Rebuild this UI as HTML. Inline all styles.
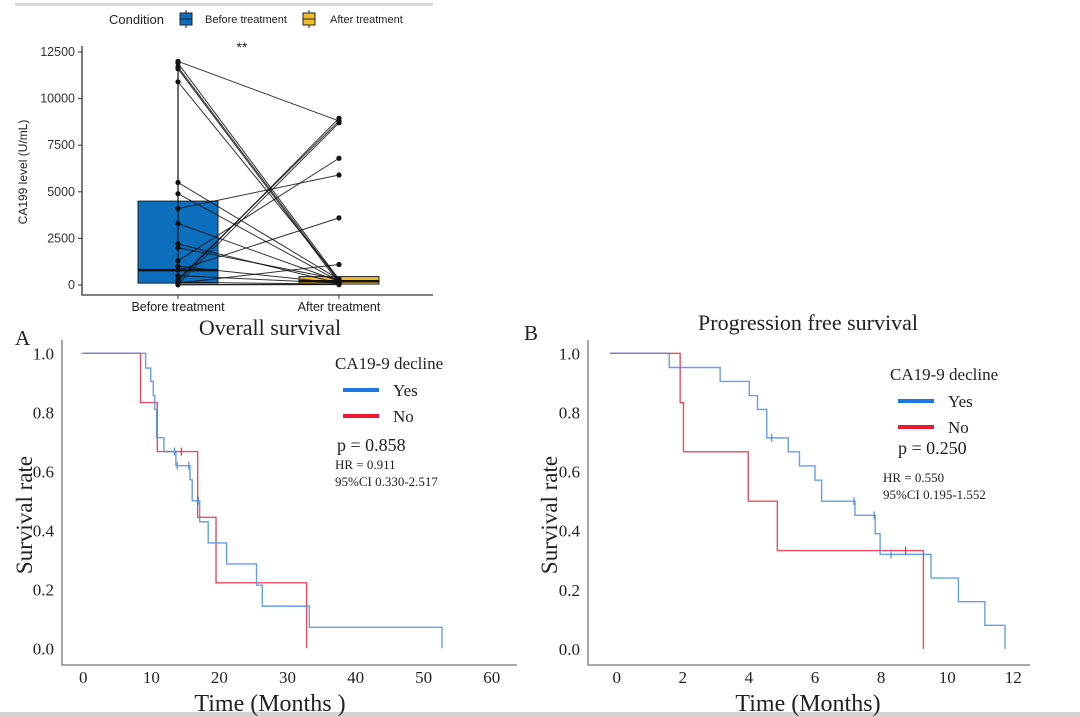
<!DOCTYPE html>
<html><head><meta charset="utf-8"><style>
body{margin:0;background:#fff;width:1080px;height:717px;overflow:hidden}
svg{display:block}
.s{font-family:"Liberation Sans",sans-serif}
.r{font-family:"Liberation Serif",serif}
</style></head><body>
<svg id="fig" width="1080" height="717" viewBox="0 0 1080 717">
<rect x="0" y="0" width="1080" height="717" fill="#fff"/>
<rect x="15" y="3" width="418" height="3" fill="#d8d8d8"/>
<rect x="0" y="712" width="1080" height="5" fill="#d4d4d4"/>
<g id="box"></g>
<g id="os"></g>
<g id="pfs"></g>
</svg>
<script>
// ---- Boxplot data ----
const boxCategories = ["Before treatment","After treatment"];
const boxYTicks = [0,2500,5000,7500,10000,12500];
const beforeVals = [12000,11900,11700,11600,10900,5500,4900,4100,3300,2200,2000,1300,1000,800,300,200,100,50,20,10,500,150];
const afterVals  = [8800,300,200,100,300,300,200,5900,200,100,300,6800,100,3600,8800,8950,1100,8700,50,20,100,50];
const beforeBox = [100,800,4500]; // q1, median, q3
const afterBox = [50,200,450];
// ---- OS data ----
const osXTicks=[0,10,20,30,40,50,60];
const survTicks=[0,0.2,0.4,0.6,0.8,1.0];
const osYesT=[-0.3,9.16,9.9,10.28,10.5,10.77,11.85,13.6,15.67,16.0,17.1,18.35,21.05,25.45,26.3,33.2,52.7];
const osYesS=[1,0.95,0.905,0.857,0.81,0.714,0.667,0.619,0.571,0.5,0.429,0.357,0.286,0.214,0.143,0.071,0];
const osYesCensT=[13.4,13.8,15.5,16.9];
const osYesCensS=[0.667,0.619,0.619,0.5];
const osNoT=[0.2,8.4,10.87,16.8,19.5,32.8];
const osNoS=[1,0.833,0.667,0.444,0.222,0];
const osNoCensT=[14.4];
const osNoCensS=[0.667];
// ---- PFS data ----
const pfsXTicks=[0,2,4,6,8,10,12];
const pfsYesT=[-0.2,1.59,3.13,4.01,4.26,4.54,5.19,5.53,6.0,6.2,7.21,7.82,7.97,9.51,10.34,11.14,11.75];
const pfsYesS=[1,0.952,0.905,0.857,0.81,0.714,0.667,0.619,0.571,0.5,0.452,0.39,0.32,0.24,0.16,0.08,0];
const pfsYesCensT=[4.69,7.18,7.79,8.3];
const pfsYesCensS=[0.714,0.5,0.452,0.32];
const pfsNoT=[-0.2,1.92,2.02,3.98,4.86,9.28];
const pfsNoS=[1,0.833,0.667,0.5,0.333,0];
const pfsNoCensT=[8.74];
const pfsNoCensS=[0.333];

const NS="http://www.w3.org/2000/svg";
function mk(p,tag,a,txt){const e=document.createElementNS(NS,tag);for(const k in a)e.setAttribute(k,a[k]);if(txt!==undefined)e.textContent=txt;p.appendChild(e);return e;}

// ---------- Boxplot ----------
(function(){
const g=document.getElementById('box');
const y=v=>285-v*(233/12500);
const cx=[178,339];
const ax=mk(g,'path',{d:'M82,46V295H433',fill:'none',stroke:'#333','stroke-width':1.3});


boxYTicks.forEach(t=>{
 const tk=mk(g,'line',{x1:78,x2:82,y1:y(t),y2:y(t),stroke:'#333'});
 
 
 const l=mk(g,'text',{x:75,y:y(t)+4,'text-anchor':'end','font-size':12.5,fill:'#333',class:'s'},String(t));
 
 
});
boxCategories.forEach((c,i)=>{
 mk(g,'line',{x1:cx[i],x2:cx[i],y1:295,y2:299,stroke:'#333'});
 const l=mk(g,'text',{x:cx[i],y:311,'text-anchor':'middle','font-size':12.5,fill:'#222',class:'s'},c);
 
 
});
const yl=mk(g,'text',{x:0,y:0,transform:'translate(27,172) rotate(-90)','text-anchor':'middle','font-size':12,fill:'#222',class:'s'},'CA199 level (U/mL)');


[[beforeBox,'#0b6fbd',0],[afterBox,'#f0bd2a',1]].forEach(([b,col,i])=>{
 const r=mk(g,'rect',{x:cx[i]-40,y:y(b[2]),width:80,height:y(b[0])-y(b[2]),fill:col,stroke:'#222','stroke-width':1});
 
 
 const m=mk(g,'line',{x1:cx[i]-40,x2:cx[i]+40,y1:y(b[1]),y2:y(b[1]),stroke:'#111','stroke-width':2.5});
 
 
});
mk(g,'line',{x1:cx[0],x2:cx[0],y1:y(0),y2:y(Math.max(...beforeVals)),stroke:'#111','stroke-width':1.2});
beforeVals.forEach((v,i)=>{
 const ln=mk(g,'line',{x1:cx[0],y1:y(v),x2:cx[1],y2:y(afterVals[i]),stroke:'#111','stroke-width':1,'stroke-opacity':0.85});
 
 
});
beforeVals.forEach((v,i)=>{
 const p=mk(g,'circle',{cx:cx[0],cy:y(v),r:2.6,fill:'#111'});
 
 
 const q=mk(g,'circle',{cx:cx[1],cy:y(afterVals[i]),r:2.6,fill:'#111'});
 
 
});
const st=mk(g,'text',{x:242,y:52,'text-anchor':'middle','font-size':14,fill:'#222',class:'s'},'**');


const lg=mk(g,'g',{});


mk(lg,'text',{x:109,y:24,'font-size':13,fill:'#222',class:'s'},'Condition');
[[180,'#0b6fbd','Before treatment',205],[303,'#f0bd2a','After treatment',330]].forEach(([x,c,t,tx])=>{
 mk(lg,'line',{x1:x+6,x2:x+6,y1:10,y2:28,stroke:'#222'});
 mk(lg,'rect',{x:x,y:13,width:12,height:12,fill:c,stroke:'#222'});
 mk(lg,'line',{x1:x,x2:x+12,y1:19,y2:19,stroke:'#222'});
 const e=mk(lg,'text',{x:tx,y:23,'font-size':11,fill:'#222',class:'s'},t);
 
 
});
})();

// ---------- KM plot helper ----------
function km(gid,cfg){
const g=document.getElementById(gid);
const x=v=>cfg.x0+(v-cfg.xmin)*(cfg.x1-cfg.x0)/(cfg.xmax-cfg.xmin);
const y=v=>cfg.y0-v*(cfg.y0-cfg.y1);
const ax=mk(g,'path',{d:`M${cfg.ax},${cfg.atop}V${cfg.ay}H${cfg.aright}`,fill:'none',stroke:'#777','stroke-width':1.3});


survTicks.forEach(t=>{
 const l=mk(g,'text',{x:cfg.ax-8,y:y(t)+6,'text-anchor':'end','font-size':17,fill:'#222',class:'r'},t.toFixed(1));
 
 
});
cfg.xt.forEach(t=>{
 const l=mk(g,'text',{x:x(t),y:cfg.ay+18,'text-anchor':'middle','font-size':17,fill:'#222',class:'r'},String(t));
 
 
});
function curve(T,S,col,name){
 let d=`M${x(T[0])},${y(S[0])}`;
 for(let i=1;i<T.length;i++){d+=`H${x(T[i])}V${y(S[i])}`;}
 const p=mk(g,'path',{d,fill:'none',stroke:col,'stroke-width':1.4,'stroke-opacity':0.85});
 
 
}
function cens(T,S,col){
 T.forEach((t,i)=>{
  const c=mk(g,'line',{x1:x(t),x2:x(t),y1:y(S[i])-4,y2:y(S[i])+4,stroke:col,'stroke-width':1.2});
  
  
 });
}
curve(cfg.noT,cfg.noS,'#ec2a43','no-curve');
curve(cfg.yesT,cfg.yesS,'#4a8fe6','yes-curve');
cens(cfg.noCT,cfg.noCS,'#ec2a43');
cens(cfg.yesCT,cfg.yesCS,'#4a8fe6');
const t=mk(g,'text',{x:cfg.tx,y:cfg.ty,'text-anchor':'middle','font-size':22,fill:'#222',class:'r'},cfg.title);


const pl=mk(g,'text',{x:cfg.px,y:cfg.ty+10,'font-size':21,fill:'#222',class:'r'},cfg.panel);


const yl=mk(g,'text',{x:0,y:0,transform:`translate(${cfg.ylx},${cfg.yly}) rotate(-90)`,'text-anchor':'middle','font-size':23,fill:'#222',class:'r'},'Survival rate');


const xl=mk(g,'text',{x:cfg.tx,y:711,'text-anchor':'middle','font-size':24,fill:'#222',class:'r'},cfg.xlabel);


const lg=mk(g,'g',{});


mk(lg,'text',{x:cfg.lx,y:cfg.ly,'font-size':17,fill:'#222',class:'r'},'CA19-9 decline');
[['#1a78e6','Yes',0],['#f01530','No',26]].forEach(([c,n,o])=>{
 mk(lg,'rect',{x:cfg.lkx,y:cfg.ly+19+o,width:36,height:4,fill:c});
 const e=mk(lg,'text',{x:cfg.lkx+50,y:cfg.ly+27+o,'font-size':17,fill:'#222',class:'r'},n);
 
 
});
const p=mk(g,'text',{x:cfg.ppx,y:cfg.ppy,'font-size':18,fill:'#222',class:'r'},cfg.p);


const h=mk(g,'text',{x:cfg.hx,y:cfg.hy,'font-size':13,fill:'#222',class:'r'},cfg.hr);


const ci=mk(g,'text',{x:cfg.hx,y:cfg.hy+17,'font-size':13,fill:'#222',class:'r'},cfg.ci);


}
km('os',{xmin:0,xmax:60,x0:83.3,x1:491.7,y0:648.3,y1:353.3,ax:62,atop:340,ay:665,aright:517,xt:osXTicks,
 yesT:osYesT,yesS:osYesS,noT:osNoT,noS:osNoS,yesCT:osYesCensT,yesCS:osYesCensS,noCT:osNoCensT,noCS:osNoCensS,
 title:'Overall survival',tx:270,ty:335,px:15,panel:'A',ylx:32,yly:515,xlabel:'Time (Months )',
 lx:335,ly:369,lkx:343,ppx:337,ppy:451,p:'p = 0.858',hx:335,hy:469,hr:'HR = 0.911',ci:'95%CI 0.330-2.517'});
km('pfs',{xmin:0,xmax:12,x0:616.7,x1:1013.3,y0:649,y1:353.3,ax:588,atop:340,ay:665,aright:1030,xt:pfsXTicks,
 yesT:pfsYesT,yesS:pfsYesS,noT:pfsNoT,noS:pfsNoS,yesCT:pfsYesCensT,yesCS:pfsYesCensS,noCT:pfsNoCensT,noCS:pfsNoCensS,
 title:'Progression free survival',tx:808,ty:330,px:524,panel:'B',ylx:557,yly:515,xlabel:'Time (Months)',
 lx:890,ly:380,lkx:898,ppx:898,ppy:454,p:'p = 0.250',hx:883,hy:482,hr:'HR = 0.550',ci:'95%CI 0.195-1.552'});
</script>
</body></html>
